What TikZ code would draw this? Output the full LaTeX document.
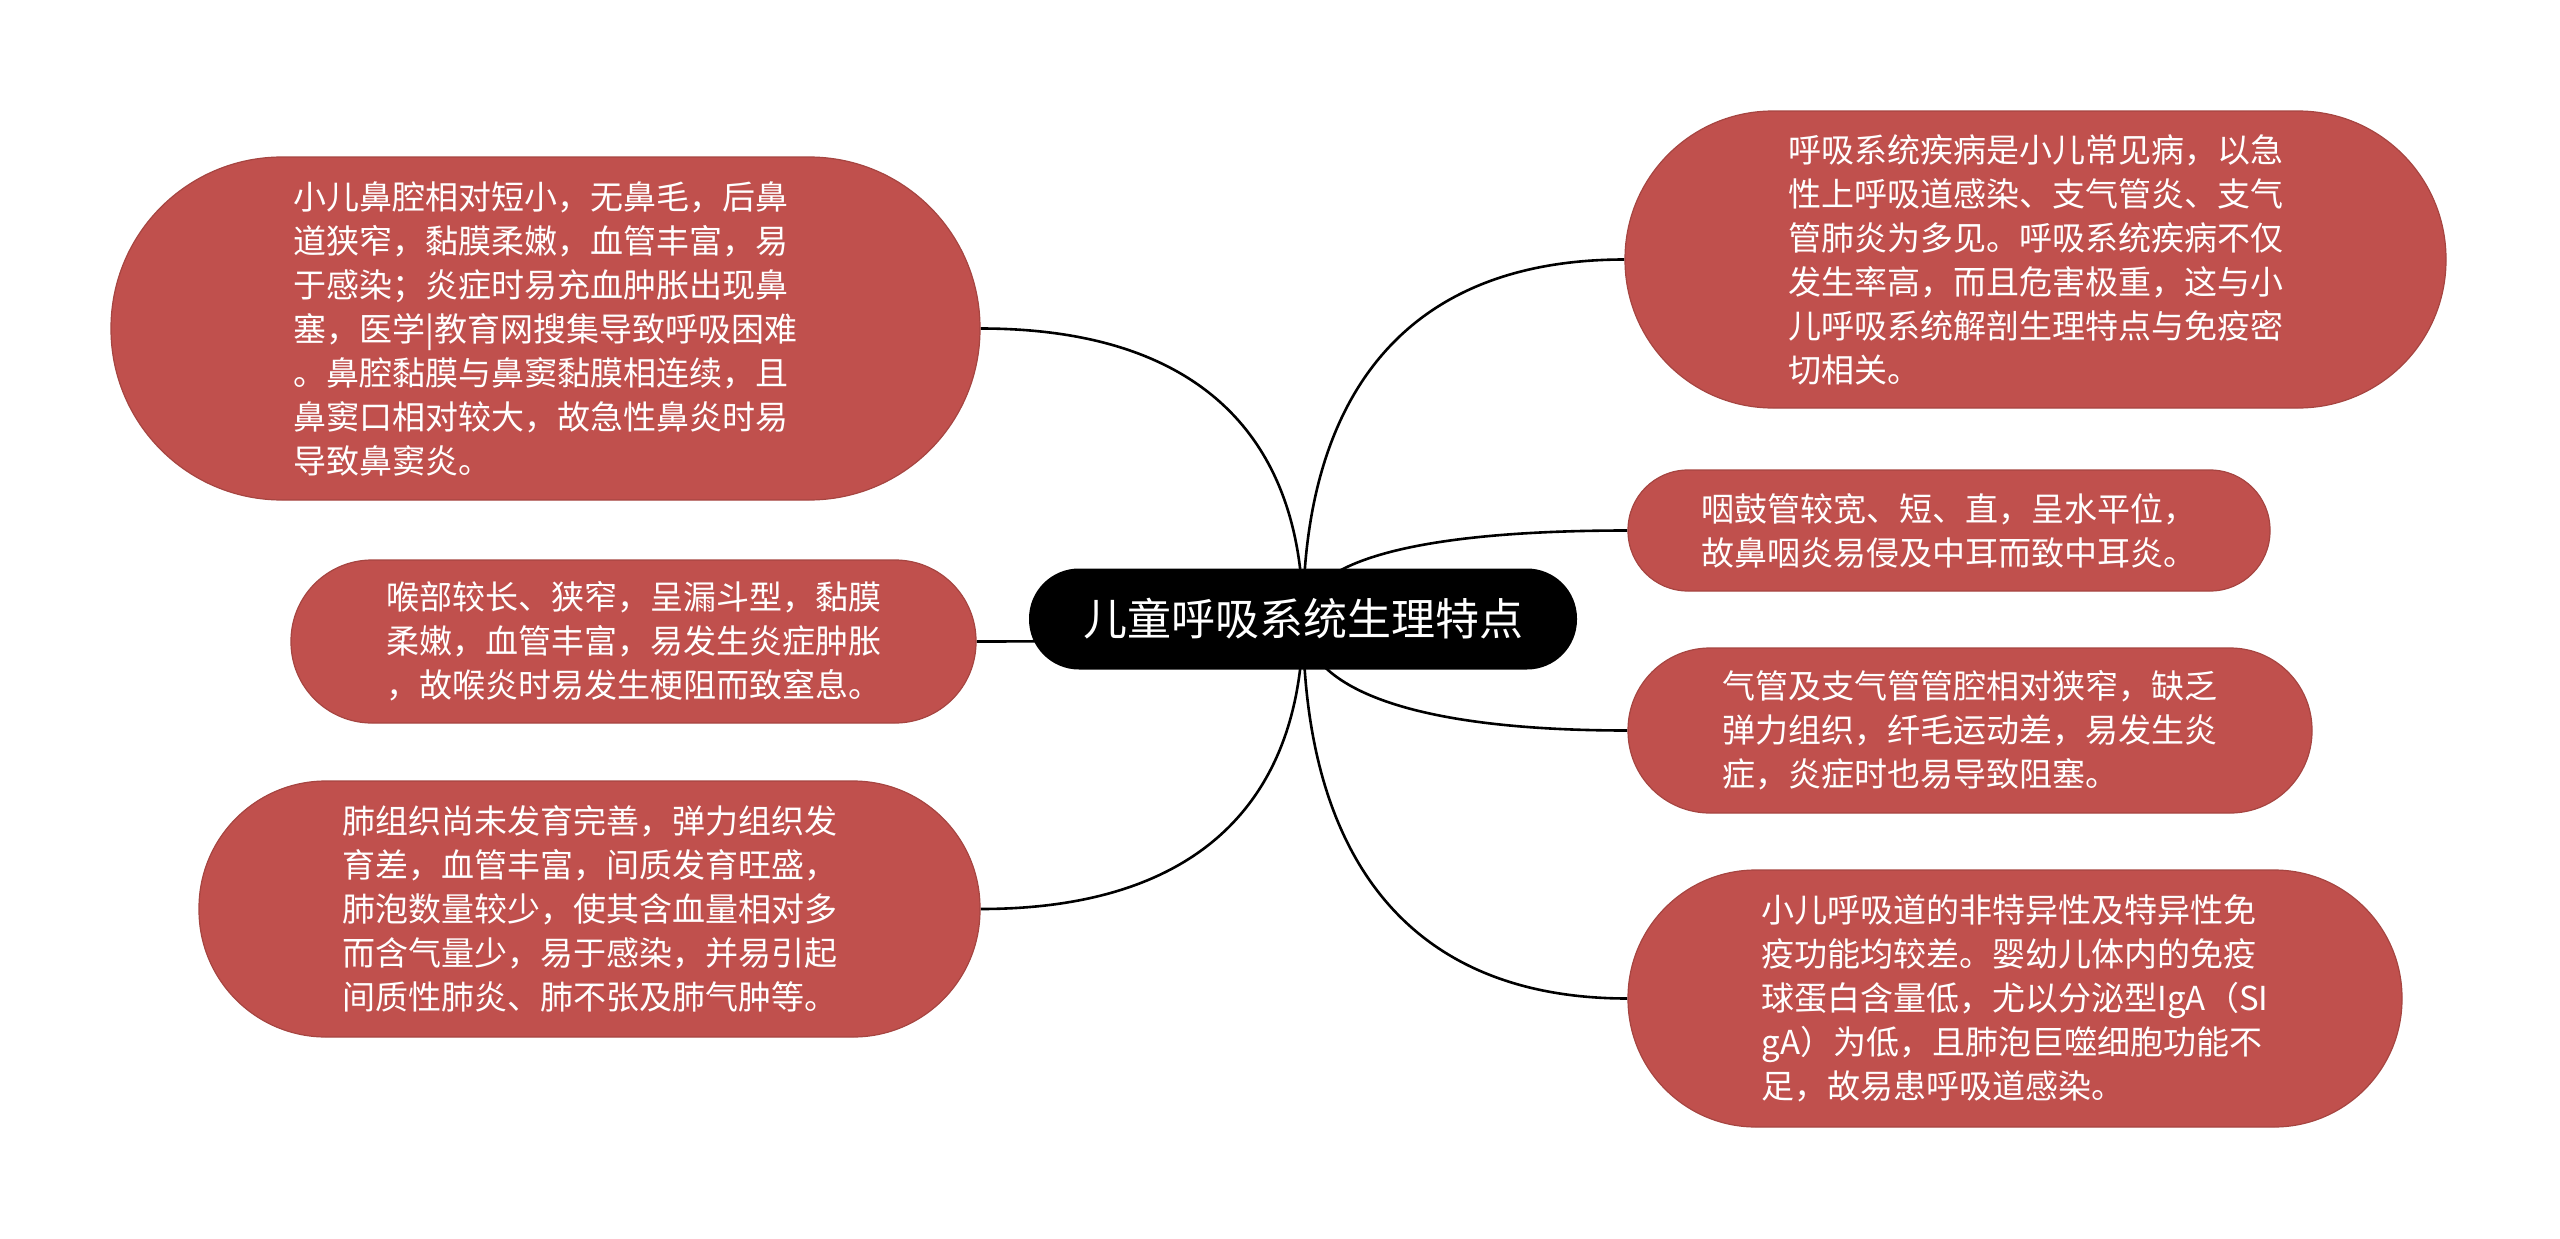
\documentclass[tikz,border=0pt]{standalone}
\usepackage{fontspec}
\newfontfamily\cjk{Noto Sans CJK SC}
\pgfdeclarelayer{bg}
\pgfsetlayers{bg,main}
\definecolor{nodered}{HTML}{C0504D}
\definecolor{nodeedge}{HTML}{A64541}
\tikzset{
  leaf/.style={fill=nodered, draw=nodeedge, line width=1.2pt, text=white, inner sep=0pt, align=left, font=\cjk\fontsize{33}{44}\selectfont},
  rootnode/.style={fill=black, text=white, inner sep=0pt, font=\cjk\fontsize{44}{52}\selectfont, minimum width=548, minimum height=101, rounded corners=50},
  link/.style={line width=2.6pt, black},
}
\begin{document}
\begin{tikzpicture}[x=1pt,y=-1pt]
\useasboundingbox (0,0) rectangle (2560,1239);
\node[rootnode] (c) at (1303,619) {儿童呼吸系统生理特点};

\node[leaf, minimum width=869, minimum height=343, rounded corners=171] (tl) at (545.5,328.5) {小儿鼻腔相对短小，无鼻毛，后鼻\\道狭窄，黏膜柔嫩，血管丰富，易\\于感染；炎症时易充血肿胀出现鼻\\塞，医学|教育网搜集导致呼吸困难\\。鼻腔黏膜与鼻窦黏膜相连续，且\\鼻窦口相对较大，故急性鼻炎时易\\导致鼻窦炎。};

\node[leaf, minimum width=685, minimum height=163, rounded corners=81] (ml) at (633.5,641.5) {喉部较长、狭窄，呈漏斗型，黏膜\\柔嫩，血管丰富，易发生炎症肿胀\\，故喉炎时易发生梗阻而致窒息。};

\node[leaf, minimum width=781, minimum height=256, rounded corners=127] (bl) at (589.5,909) {肺组织尚未发育完善，弹力组织发\\育差，血管丰富，间质发育旺盛，\\肺泡数量较少，使其含血量相对多\\而含气量少，易于感染，并易引起\\间质性肺炎、肺不张及肺气肿等。};

\node[leaf, minimum width=821, minimum height=297, rounded corners=148] (tr) at (2035.5,259.5) {呼吸系统疾病是小儿常见病，以急\\性上呼吸道感染、支气管炎、支气\\管肺炎为多见。呼吸系统疾病不仅\\发生率高，而且危害极重，这与小\\儿呼吸系统解剖生理特点与免疫密\\切相关。};

\node[leaf, minimum width=642, minimum height=121, rounded corners=60] (r2) at (1949,530.5) {咽鼓管较宽、短、直，呈水平位，\\故鼻咽炎易侵及中耳而致中耳炎。};

\node[leaf, minimum width=684, minimum height=165, rounded corners=82] (r3) at (1970,730.5) {气管及支气管管腔相对狭窄，缺乏\\弹力组织，纤毛运动差，易发生炎\\症，炎症时也易导致阻塞。};

\node[leaf, minimum width=774, minimum height=257, rounded corners=128] (r4) at (2015,998.5) {小儿呼吸道的非特异性及特异性免\\疫功能均较差。婴幼儿体内的免疫\\球蛋白含量低，尤以分泌型IgA（SI\\gA）为低，且肺泡巨噬细胞功能不\\足，故易患呼吸道感染。};

\begin{pgfonlayer}{bg}
\draw[link] (c.center) .. controls +(0,-175) and +(226,0) .. (tl.east);
\draw[link] (c.center) .. controls +(0,13) and +(228,0) .. (ml.east);
\draw[link] (c.center) .. controls +(0,174) and +(226,0) .. (bl.east);
\draw[link] (c.center) .. controls +(0,-214) and +(-227,0) .. (tr.west);
\draw[link] (c.center) .. controls +(0,-53) and +(-228,0) .. (r2.west);
\draw[link] (c.center) .. controls +(0,65) and +(-228,0) .. (r3.west);
\draw[link] (c.center) .. controls +(0,227) and +(-228,0) .. (r4.west);
\end{pgfonlayer}
\end{tikzpicture}
\end{document}
